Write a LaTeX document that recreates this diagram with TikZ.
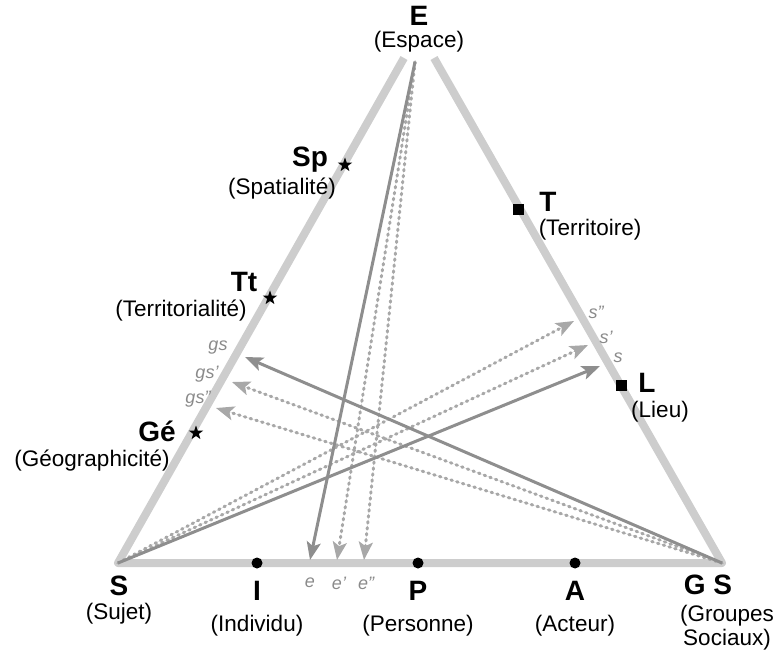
\documentclass[tikz,border=0pt]{standalone}
\usepackage{fontspec}
\setmainfont{Liberation Sans}
\usetikzlibrary{arrows.meta,shapes.geometric}
\definecolor{sidegray}{HTML}{CDCDCD}
\definecolor{arrowgray}{HTML}{8E8E8E}
\definecolor{dotgray}{HTML}{A8A8A8}
\definecolor{taggray}{HTML}{8A8A8A}

\begin{document}
\begin{tikzpicture}[x=1pt,y=-1pt,
  side/.style={line width=8pt,draw=sidegray,line join=round},
  arr/.style={-{Stealth[length=18pt,width=14pt,inset=4pt]},line width=3pt,draw=arrowgray,fill=arrowgray},
  dotarr/.style={-{Stealth[length=18pt,width=14pt,inset=4pt]},line width=3pt,draw=dotgray,fill=dotgray!80,dash pattern=on 1.5pt off 4.5pt,line cap=round},
  big/.style={font=\fontsize{28}{30}\selectfont\bfseries,inner sep=0.5pt},
  sub/.style={font=\fontsize{22.5}{24}\selectfont,inner sep=0.5pt},
  tag/.style={font=\fontsize{18}{20}\selectfont\itshape,text=taggray,inner sep=0pt},
  starmark/.style={star,star points=5,star point ratio=2.5,fill=black,inner sep=0pt,minimum size=15pt},
  sqmark/.style={rectangle,fill=black,inner sep=0pt,minimum size=11pt},
  dotmark/.style={circle,fill=black,inner sep=0pt,minimum size=11pt}]
\useasboundingbox (0,0) rectangle (774,652);
\coordinate (S) at (118,563);
\coordinate (GS) at (722,563);
\coordinate (Eleft) at (404,58);
\coordinate (Eright) at (434,58);
\coordinate (Eo) at (415,62);
\draw [side] (Eleft) -- (S) -- (GS) -- (Eright);
\node [dotmark] (Idot) at (257,563) {};
\node [dotmark] (Pdot) at (418,563) {};
\node [dotmark] (Adot) at (575,563) {};
\node [starmark] (Spstar) at (345,165) {};
\node [starmark] (Ttstar) at (270,298) {};
\node [starmark] (Gestar) at (196,433) {};
\node [sqmark] (Tsq) at (518,210) {};
\node [sqmark] (Lsq) at (621,385) {};
\coordinate (e1) at (310,560);
\coordinate (e2) at (337,560);
\coordinate (e3) at (364,560);
\coordinate (gs1) at (245,357);
\coordinate (gs2) at (232,382);
\coordinate (gs3) at (216,408);
\coordinate (s1) at (600,366);
\coordinate (s2) at (588,345);
\coordinate (s3) at (574,321);
\draw [dotarr] (Eo) -- (e2);
\draw [dotarr] (Eo) -- (e3);
\draw [dotarr] (GS) -- (gs2);
\draw [dotarr] (GS) -- (gs3);
\draw [dotarr] (S) -- (s2);
\draw [dotarr] (S) -- (s3);
\draw [arr] (Eo) -- (e1);
\draw [arr] (GS) -- (gs1);
\draw [arr] (S) -- (s1);
\node [tag] (e1lab) at (310,583) {e};
\node [tag] (e2lab) at (339,583) {e'};
\node [tag] (e3lab) at (366,583) {e''};
\node [tag] (gs1lab) at (218,348) {gs};
\node [tag] (gs2lab) at (207,374) {gs'};
\node [tag] (gs3lab) at (198,399) {gs''};
\node [tag] (s3lab) at (596,312) {s''};
\node [tag] (s2lab) at (606,337) {s'};
\node [tag] (s1lab) at (618,358) {s};
\node [big] (Elab) at (419,16) {E};
\node [sub] (Esub) at (419,42) {(Espace)};
\node [big] (Splab) at (310,160) {Sp};
\node [sub] (Spsub) at (282,189) {(Spatialité)};
\node [big] (Ttlab) at (244,282) {Tt};
\node [sub] (Ttsub) at (181,311) {(Territorialité)};
\node [big] (Gelab) at (157,431) {Gé};
\node [sub] (Gesub) at (92,461) {(Géographicité)};
\node [big] (Tlab) at (548,202) {T};
\node [sub] (Tsub) at (590,230) {(Territoire)};
\node [big] (Llab) at (647,383) {L};
\node [sub] (Lsub) at (660,412) {(Lieu)};
\node [big] (Slab) at (119,586) {S};
\node [sub] (Ssub) at (119,614) {(Sujet)};
\node [big] (Ilab) at (257,591) {I};
\node [sub] (Isub) at (257,626) {(Individu)};
\node [big] (Plab) at (418,591) {P};
\node [sub] (Psub) at (418,626) {(Personne)};
\node [big] (Alab) at (575,591) {A};
\node [sub] (Asub) at (575,626) {(Acteur)};
\node [big] (GSlab) at (708,585) {G S};
\node [sub,align=center] (GSsub) at (727,628) {(Groupes\\Sociaux)};
\end{tikzpicture}
\end{document}
